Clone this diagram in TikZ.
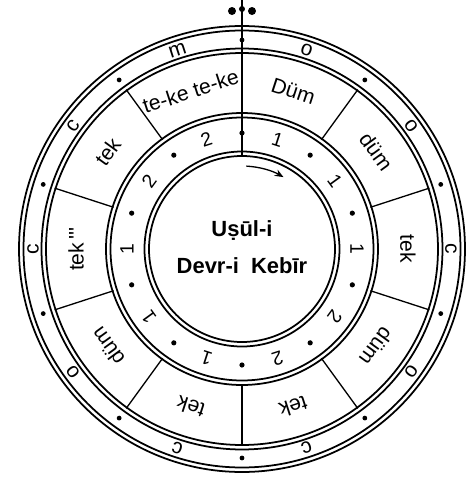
\documentclass[tikz,border=0pt]{standalone}
\usepackage{fontspec}
\setmainfont{Liberation Sans}
\usetikzlibrary{arrows.meta}
\tikzset{
  rim/.style={draw=black, line width=1pt},
  seg/.style={draw=black, line width=0.75pt},
  wrd/.style={font=\fontsize{12}{13}\selectfont, inner sep=0pt},
  num/.style={font=\fontsize{11}{12}\selectfont, inner sep=0pt},
  sym/.style={font=\fontsize{12}{12}\selectfont, inner sep=0pt},
  ttl/.style={font=\fontsize{12.5}{21}\selectfont\bfseries, align=center},
}

\begin{document}
\begin{tikzpicture}[scale=0.02]
\useasboundingbox (-242,-237) rectangle (225,249);
% double rims
\foreach \r in {223,218.5,200.5,196,136,131.5,97.5,93}
  \draw[rim] (0,0) circle (\r);
% segment dividers
\foreach \a in {54,18,-18,-54,-90,-126,-162,162,126}
  \draw[seg] (\a:135) -- (\a:197);
\draw[seg] (0,93) -- (0,249);
% top mark
\fill (0,240) circle (3);
\fill (-10,238) circle (4);
\fill (10,238) circle (4);
% dots on both bands
\foreach \a in {90,54,18,-18,-54,-90,-126,-162,162,126} {
  \fill (\a:209) circle (2.4);
  \fill (\a:116) circle (2.6);
}
% outer letters
\foreach \a/\s [count=\i] in {72/o,36/o,0/c,-36/o,-72/c,-108/c,-144/o,180/c,144/c,108/m}
  \node[sym, rotate=\a-90] (s\i) at (\a:209) {\s};
% strokes
\foreach \a/\w [count=\i] in {72/Düm,36/düm,0/tek,-36/düm,-72/tek,-108/tek,-144/düm,
    180/{tek\,\textquotesingle\textquotesingle\textquotesingle},144/tek,108/te-ke te-ke}
  \node[wrd, rotate=\a-90] (w\i) at (\a:166) {\w};
% beats
\foreach \a/\n [count=\i] in {72/1,36/1,0/1,-36/2,-72/2,-108/1,-144/1,180/1,144/2,108/2}
  \node[num, rotate=\a-90] (n\i) at (\a:115) {\n};
\draw[seg, -{Stealth[length=5pt, width=4pt]}] (87:83) arc[start angle=87, end angle=60, radius=83];
\node[ttl] (title) at (0,2) {Uṣūl-i\\Devr-i\ \ Kebīr};
\end{tikzpicture}
\end{document}
